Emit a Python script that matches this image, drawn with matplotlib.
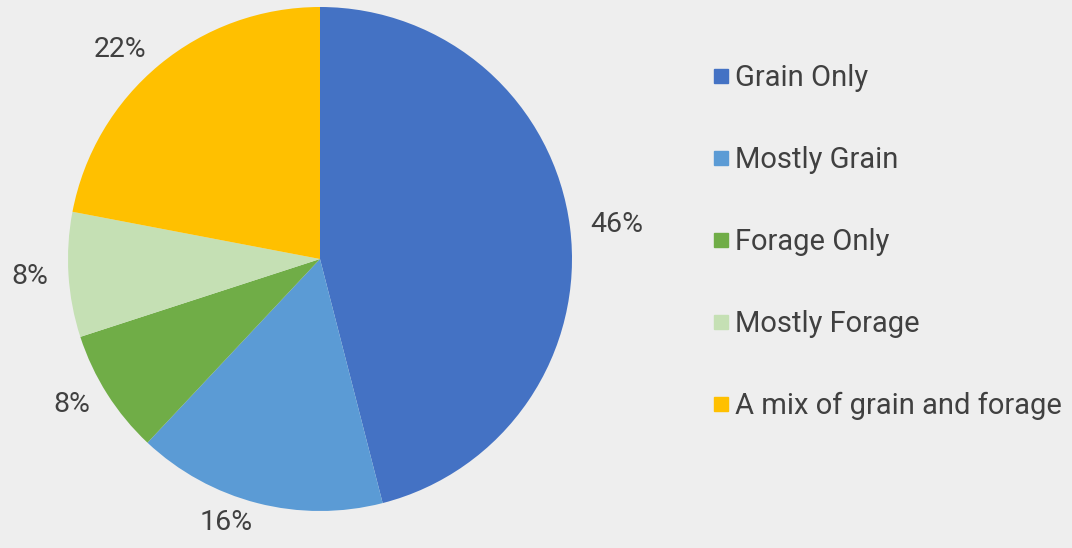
import numpy as np
import matplotlib
matplotlib.use("Agg")
import matplotlib.pyplot as plt
from matplotlib.lines import Line2D

plt.rcParams['font.family'] = ['Roboto', 'DejaVu Sans']

categories = ["Grain Only", "Mostly Grain", "Forage Only", "Mostly Forage",
              "A mix of grain and forage"]
shares = [46, 16, 8, 8, 22]
colors = ["#4472C4", "#5B9BD5", "#70AD47", "#C5E0B4", "#FFC000"]

bg = "#EEEEEE"
txt = "#404040"

fig = plt.figure(figsize=(10.72, 5.48), dpi=100, facecolor=bg)
ax = fig.add_axes([68 / 1072, 37 / 548, 504 / 1072, 504 / 548])
ax.set_facecolor(bg)

wedges, _ = ax.pie(shares, colors=colors, startangle=90, counterclock=False,
                   radius=1.0, wedgeprops=dict(linewidth=0))

# labels outside the slices, anchored on the side facing the pie
for w, v in zip(wedges, shares):
    mid = np.deg2rad((w.theta1 + w.theta2) / 2)
    x, y = 1.08 * np.cos(mid), 1.08 * np.sin(mid)
    ax.text(x, y, f"{v}%", ha="left" if x > 0 else "right", va="center",
            fontsize=20.5, color=txt)

ax.set_xlim(-1, 1)
ax.set_ylim(-1, 1)
ax.set_aspect("equal")
ax.axis("off")

handles = [Line2D([0], [0], marker="s", linestyle="none", markersize=9.4,
                  markerfacecolor=c, markeredgecolor=c) for c in colors]
leg = fig.legend(handles, categories, loc="center left", bbox_to_anchor=(0.6535, 0.558),
                 frameon=False, fontsize=21, labelspacing=1.85, handletextpad=0.18,
                 handlelength=0.6, borderaxespad=0, borderpad=0.4)
for t in leg.get_texts():
    t.set_color(txt)

fig.savefig("out.png", dpi=100, facecolor=bg)
